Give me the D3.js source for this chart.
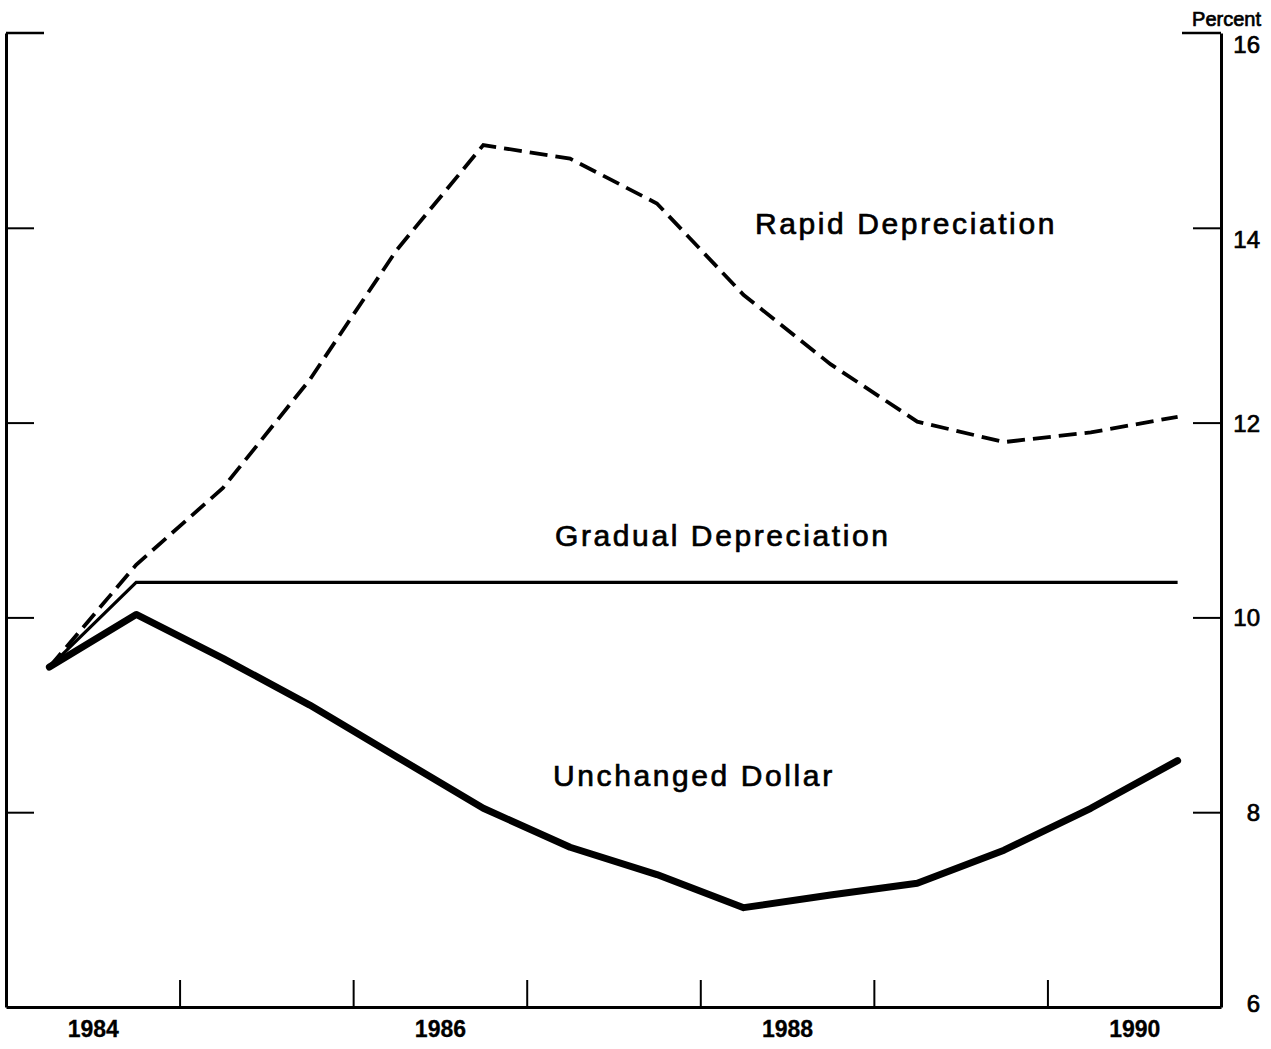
<!DOCTYPE html>
<html>
<head>
<meta charset="utf-8">
<script src="https://cdn.jsdelivr.net/npm/d3@7"></script>
<style>
  body { margin: 0; background: #fff; }
  text { font-family: "Liberation Sans", Arial, Helvetica, sans-serif; fill: #000; stroke: #000; stroke-width: 0.7px; }
</style>
</head>
<body>
<script>
// half-year points, mid of each half
var periods = [1984.25, 1984.75, 1985.25, 1985.75, 1986.25, 1986.75, 1987.25,
               1987.75, 1988.25, 1988.75, 1989.25, 1989.75, 1990.25, 1990.75];

var unchangedDollar = [9.49, 10.03, 9.58, 9.10, 8.57, 8.04, 7.64,
                       7.36, 7.02, 7.15, 7.27, 7.61, 8.04, 8.53];
var gradualDep = [9.49, 10.36, 10.36, 10.36, 10.36, 10.36, 10.36,
                  10.36, 10.36, 10.36, 10.36, 10.36, 10.36, 10.36];
var rapidDep = [9.49, 10.54, 11.33, 12.44, 13.77, 14.85, 14.71,
                14.25, 13.31, 12.60, 12.01, 11.80, 11.90, 12.06];

var yearTicks = [1985, 1986, 1987, 1988, 1989, 1990];
var yearLabels = [1984, 1986, 1988, 1990];
var percentTicks = [6, 8, 10, 12, 14, 16];

var WIDTH = 1271;
var HEIGHT = 1049;

var svg = d3.select('body').append('svg')
    .attr('width', WIDTH)
    .attr('height', HEIGHT);

var x = d3.scaleLinear().domain([1984, 1991]).range([6, 1221]);
var y = d3.scaleLinear().domain([6, 16]).range([1007, 33]);

// frame: left / bottom / right
var xAxis = d3.axisBottom(x).tickValues(yearTicks).tickSize(-27).tickSizeOuter(0).tickFormat('');
var gx = svg.append('g').attr('transform', 'translate(0,' + y(6) + ')').call(xAxis);

var xLabels = d3.axisBottom(x).tickValues(yearLabels.map(function(d){return d + 0.5;}))
    .tickSize(0).tickPadding(14).tickFormat(function(d){return Math.floor(d);});
var gxl = svg.append('g').attr('transform', 'translate(0,' + y(6) + ')').call(xLabels);
gxl.select('.domain').remove();
gxl.selectAll('text')
    .attr('font-size', 23)
    .attr('font-weight', 'bold')
    .attr('font-family', '"Liberation Sans", Arial, sans-serif')
    .style('stroke-width', '0.3px');

var yLeft = d3.axisLeft(y).tickValues([8, 10, 12, 14]).tickSize(-28).tickSizeOuter(0).tickFormat('');
var gyl = svg.append('g').attr('transform', 'translate(' + x(1984) + ',0)').call(yLeft);

var yRight = d3.axisRight(y).tickValues([8, 10, 12, 14]).tickSize(-28).tickSizeOuter(0).tickFormat('');
var gyr = svg.append('g').attr('transform', 'translate(' + x(1991) + ',0)').call(yRight);

// longer corner ticks at 16
svg.append('line')
    .attr('x1', x(1984)).attr('x2', x(1984) + 38)
    .attr('y1', y(16)).attr('y2', y(16))
    .attr('stroke', '#000').attr('stroke-width', 2.5);
svg.append('line')
    .attr('x1', x(1991) - 39).attr('x2', x(1991))
    .attr('y1', y(16)).attr('y2', y(16))
    .attr('stroke', '#000').attr('stroke-width', 2.5);

[gx, gyl, gyr].forEach(function(g){
    g.select('.domain').attr('stroke-width', 3).attr('stroke', '#000');
    g.selectAll('.tick line').attr('stroke-width', 2).attr('stroke', '#000');
});

// right labels
svg.selectAll('.pct-label').data(percentTicks).enter()
    .append('text')
    .attr('class', 'pct-label')
    .attr('x', 1260)
    .attr('y', function(d){
        if (d >= 14) return y(d) + 20;
        if (d === 6) return y(d) + 5;
        return y(d) + 9;
    })
    .attr('text-anchor', 'end')
    .attr('font-size', 24)
    .text(function(d){ return d; });

svg.append('text')
    .attr('x', 1261).attr('y', 26)
    .attr('text-anchor', 'end')
    .attr('font-size', 20)
    .text('Percent');

// lines
var line = d3.line()
    .x(function(d){ return x(d[0]); })
    .y(function(d){ return y(d[1]); });

function pairs(vals){ return periods.map(function(p, i){ return [p, vals[i]]; }); }

svg.append('path')
    .datum(pairs(rapidDep))
    .attr('d', line)
    .attr('fill', 'none')
    .attr('stroke', '#000')
    .attr('stroke-width', 3.8)
    .attr('stroke-dasharray', '18,8');

svg.append('path')
    .datum(pairs(gradualDep))
    .attr('d', line)
    .attr('fill', 'none')
    .attr('stroke', '#000')
    .attr('stroke-width', 3.2);

svg.append('path')
    .datum(pairs(unchangedDollar))
    .attr('d', line)
    .attr('fill', 'none')
    .attr('stroke', '#000')
    .attr('stroke-width', 7)
    .attr('stroke-linejoin', 'round')
    .attr('stroke-linecap', 'round');

// series labels
var seriesLabels = [
    {text: 'Rapid Depreciation', x: 755, y: 234},
    {text: 'Gradual Depreciation', x: 555, y: 546},
    {text: 'Unchanged Dollar', x: 553, y: 786}
];
svg.selectAll('.series-label').data(seriesLabels).enter()
    .append('text')
    .attr('class', 'series-label')
    .attr('x', function(d){ return d.x; })
    .attr('y', function(d){ return d.y; })
    .attr('font-size', 30)
    .attr('letter-spacing', 2.6)
    .text(function(d){ return d.text; });
</script>
</body>
</html>
